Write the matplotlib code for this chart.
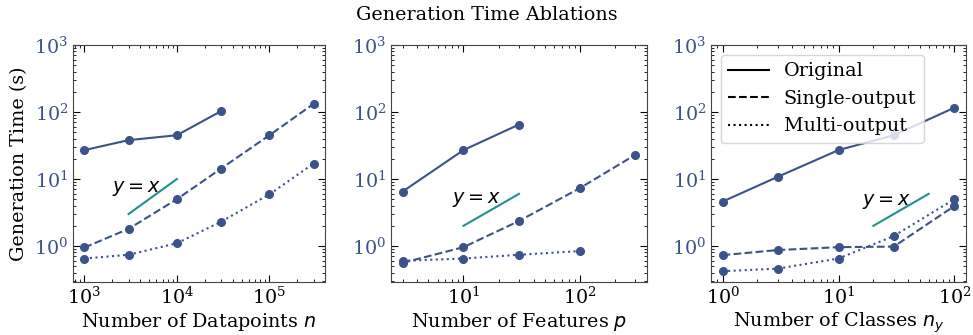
import matplotlib
matplotlib.use("Agg")
import matplotlib.pyplot as plt
from matplotlib.lines import Line2D

plt.rcParams['font.family'] = ['DejaVu Serif']
plt.rcParams['mathtext.fontset'] = 'dejavusans'

# ---- data ----
n_vals = [1e3, 3e3, 1e4, 3e4, 1e5, 3e5]
n_original = [27, 38, 45, 103]
n_single = [0.95, 1.8, 5.0, 14.3, 45, 132]
n_multi = [0.65, 0.74, 1.1, 2.3, 5.9, 17]

p_vals = [3, 10, 30, 100, 300]
p_original = [6.5, 27, 65]
p_single = [0.56, 0.96, 2.36, 7.3, 23]
p_multi = [0.6, 0.65, 0.74, 0.84]

c_vals = [1, 3, 10, 30, 100]
c_original = [4.6, 10.8, 27, 45, 116]
c_single = [0.73, 0.87, 0.96, 0.98, 3.95]
c_multi = [0.42, 0.46, 0.65, 1.41, 5.0]

ref_lines = [([3e3, 1e4], [3, 10]), ([10, 30], [2, 6]), ([20, 60], [2, 6])]
ref_text = [(2.0e3, 7.2), (8.0, 4.9), (16.0, 4.6)]

xlabels = [r'Number of Datapoints $n$', r'Number of Features $p$', r'Number of Classes $n_y$']
title = 'Generation Time Ablations'
ylabel = 'Generation Time (s)'
legend_labels = ['Original', 'Single-output', 'Multi-output']

blue = '#3b528b'
teal = '#21918c'
FS = 13.8

W, H = 973, 335
fig = plt.figure(figsize=(W / 100, H / 100), dpi=100)
rects = [(73, 252), (391, 256), (711, 255)]
top_px, bot_px = 45, 282
axes = [fig.add_axes([l / W, (H - bot_px) / H, w / W, (bot_px - top_px) / H]) for l, w in rects]

panels = [
    (n_vals, n_original, n_single, n_multi),
    (p_vals, p_original, p_single, p_multi),
    (c_vals, c_original, c_single, c_multi),
]

for i, (ax, (xs, orig, single, multi)) in enumerate(zip(axes, panels)):
    kw = dict(color=blue, marker='o', markersize=5.5, linewidth=1.5)
    ax.plot(xs[:len(orig)], orig, linestyle='-', **kw)
    ax.plot(xs[:len(single)], single, linestyle='--', **kw)
    ax.plot(xs[:len(multi)], multi, linestyle=':', **kw)
    rx, ry = ref_lines[i]
    ax.plot(rx, ry, color=teal, linewidth=1.5)
    tx, ty = ref_text[i]
    ax.text(tx, ty, r'$y=x$', fontsize=FS, ha='left', va='center')
    ax.set_xscale('log')
    ax.set_yscale('log')
    ax.set_ylim(0.29, 1000)
    ax.set_xlabel(xlabels[i], fontsize=FS, labelpad=2)
    ax.tick_params(which='both', direction='in', top=True, right=True)
    ax.tick_params(which='major', length=5, labelsize=FS)
    ax.tick_params(which='minor', length=2.5)
    ax.tick_params(axis='y', labelcolor=blue)
    for s in ax.spines.values():
        s.set_color('#444444')

axes[0].set_ylabel(ylabel, fontsize=FS)

handles = [Line2D([], [], color='black', linestyle=ls, linewidth=1.5) for ls in ['-', '--', ':']]
axes[2].legend(handles, legend_labels, loc='upper left',
               fontsize=FS, handlelength=2.1)

fig.suptitle(title, fontsize=FS, y=0.982)

fig.savefig('out.png', dpi=100)
